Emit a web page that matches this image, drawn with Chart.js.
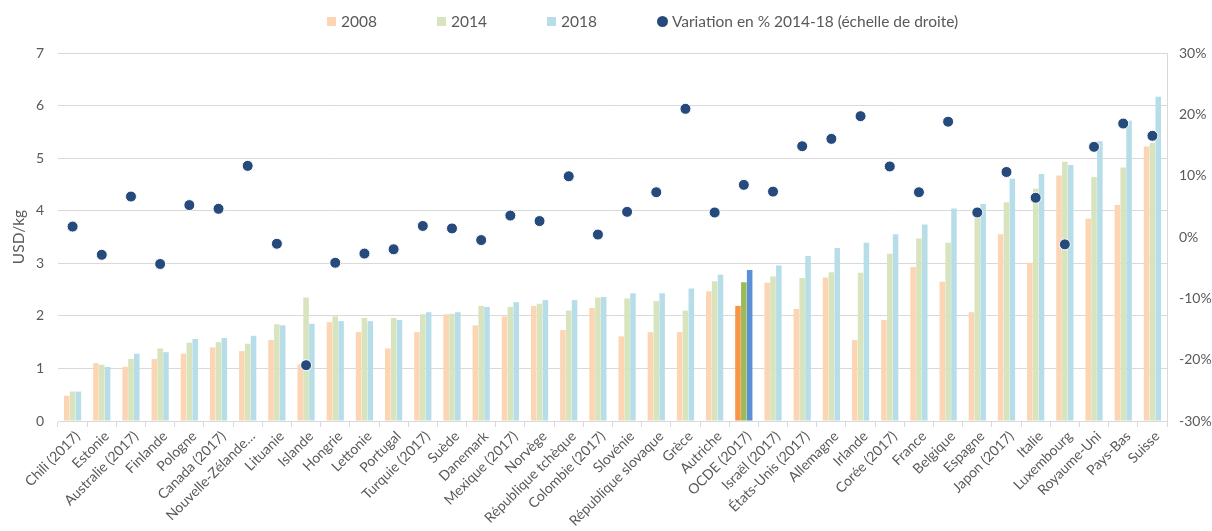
<!DOCTYPE html>
<html>
<head>
<meta charset="utf-8">
<script src="https://cdn.jsdelivr.net/npm/chart.js@4/dist/chart.umd.min.js"></script>
<style>
  body { margin: 0; background: #fff; }
  #wrap { position: relative; width: 1212px; height: 531px; }
  #legend { position: absolute; top: 12px; left: 327px; display: flex; gap: 60px;
            font: 15.5px Lato, sans-serif; color: #595959; }
  #legend span.item { display: flex; align-items: center; }
  #legend i { display: inline-block; width: 9px; height: 9px; margin-right: 5px; }
  #legend i.dot { width: 11px; height: 11px; border-radius: 50%; margin-right: 4px; }
</style>
</head>
<body>
<div id="wrap">
  <canvas id="myChart"></canvas>
  <div id="legend"></div>
</div>
<script>
const categories = ['Chili (2017)','Estonie','Australie (2017)','Finlande','Pologne','Canada (2017)','Nouvelle-Zélande…','Lituanie','Islande','Hongrie','Lettonie','Portugal','Turquie (2017)','Suède','Danemark','Mexique (2017)','Norvège','République tchèque','Colombie (2017)','Slovénie','République slovaque','Grèce','Autriche','OCDE (2017)','Israël (2017)','États-Unis (2017)','Allemagne','Irlande','Corée (2017)','France','Belgique','Espagne','Japon (2017)','Italie','Luxembourg','Royaume-Uni','Pays-Bas','Suisse']

const v2008 = [0.48,1.10,1.03,1.18,1.28,1.40,1.33,1.54,1.08,1.88,1.69,1.38,1.69,2.03,1.82,1.99,2.19,1.73,2.15,1.61,1.69,1.69,2.47,2.19,2.63,2.13,2.73,1.54,1.92,2.93,2.65,2.07,3.55,3.01,4.67,3.85,4.11,5.22]
const v2014 = [0.56,1.07,1.18,1.38,1.49,1.50,1.47,1.84,2.35,1.99,1.96,1.96,2.03,2.04,2.19,2.17,2.23,2.10,2.35,2.33,2.28,2.10,2.66,2.64,2.75,2.72,2.83,2.82,3.18,3.47,3.39,3.97,4.16,4.42,4.93,4.64,4.82,5.29]
const v2018 = [0.56,1.03,1.28,1.31,1.56,1.58,1.62,1.82,1.85,1.90,1.90,1.92,2.07,2.07,2.17,2.26,2.30,2.30,2.36,2.43,2.43,2.52,2.78,2.87,2.96,3.14,3.29,3.39,3.55,3.74,4.04,4.13,4.61,4.70,4.87,5.32,5.71,6.17]
// variation en % 2014-18, echelle de droite
const variation = [1.7,-2.9,6.6,-4.4,5.2,4.6,11.6,-1.1,-20.9,-4.2,-2.7,-2.0,1.8,1.4,-0.5,3.5,2.6,9.9,0.4,4.1,7.3,20.9,4.0,8.5,7.4,14.8,16.0,19.7,11.5,7.3,18.8,4.0,10.6,6.4,-1.2,14.7,18.5,16.5]

const leftTicks = [0,1,2,3,4,5,6,7]
const rightTicks = [-30,-20,-10,0,10,20,30]

const oecd = categories.indexOf('OCDE (2017)')
function colors(base, strong){
    return categories.map((c, i) => i === oecd ? strong : base)
}

const grey = '#595959'

let ctx = document.getElementById("myChart")
let chart = new Chart(ctx, {
    type: "bar",
    data: {
        labels: categories,
        datasets: [
            {
                type: "line",
                label: "Variation en % 2014-18 (échelle de droite)",
                data: variation,
                yAxisID: "y1",
                showLine: false,
                pointRadius: 5.5,
                pointBorderWidth: 1,
                pointBorderColor: "#ffffff",
                pointBackgroundColor: "#254A7B",
                backgroundColor: "#254A7B",
                order: 0
            },
            { label: "2008", data: v2008, backgroundColor: colors("#FCD5B5", "#F79646"), order: 1 },
            { label: "2014", data: v2014, backgroundColor: colors("#D7E4BD", "#9BBB59"), order: 1 },
            { label: "2018", data: v2018, backgroundColor: colors("#B7DEE8", "#5B8FD6"), order: 1 }
        ]
    },
    options: {
        responsive: true,
        maintainAspectRatio: false,
        animation: false,
        layout: { padding: { top: 53, bottom: 0, left: 0, right: 0 } },
        datasets: {
            bar: { categoryPercentage: 0.6, barPercentage: 0.95 }
        },
        scales: {
            x: {
                grid: { drawOnChartArea: false, color: "#D9D9D9", tickLength: 6 },
                border: { color: "#D9D9D9" },
                ticks: { color: grey, font: { family: 'Lato, sans-serif', size: 14 }, minRotation: 45, maxRotation: 45,
                         autoSkip: false, padding: 1, labelOffset: 5 },
                afterFit: (s) => { s.height = 110 }
            },
            y: {
                position: "left",
                min: 0, max: 7,
                afterBuildTicks: (s) => { s.ticks = leftTicks.map(v => ({ value: v })) },
                grid: { color: "#D9D9D9", drawTicks: false },
                border: { display: false },
                ticks: { color: grey, font: { family: 'Lato, sans-serif', size: 14 }, padding: 14 },
                title: { display: true, text: "USD/kg", color: grey, font: { family: 'Lato, sans-serif', size: 15.5 }, padding: { top: 10, bottom: 0 } },
                afterFit: (s) => { s.width = 58 }
            },
            y1: {
                position: "right",
                min: -30, max: 30,
                afterBuildTicks: (s) => { s.ticks = rightTicks.map(v => ({ value: v })) },
                grid: { drawOnChartArea: false, drawTicks: false },
                border: { color: "#D9D9D9" },
                ticks: { color: grey, font: { family: 'Lato, sans-serif', size: 14 }, padding: 12, callback: (v) => v + "%" },
                afterFit: (s) => { s.width = 45 }
            }
        },
        plugins: {
            legend: { display: false },
            tooltip: { enabled: false }
        }
    }
});

// legend in the same order as the reference: bars first, then the dots
let legend = document.getElementById("legend")
let order = [1, 2, 3, 0]
order.forEach((i) => {
    let ds = chart.data.datasets[i]
    let item = document.createElement("span")
    item.className = "item"
    let mark = document.createElement("i")
    if (ds.type === "line"){
        mark.className = "dot"
        mark.style.background = ds.pointBackgroundColor
    }
    else{
        mark.style.background = ds.backgroundColor[0]
    }
    item.appendChild(mark)
    item.appendChild(document.createTextNode(ds.label))
    legend.appendChild(item)
})
</script>
</body>
</html>
